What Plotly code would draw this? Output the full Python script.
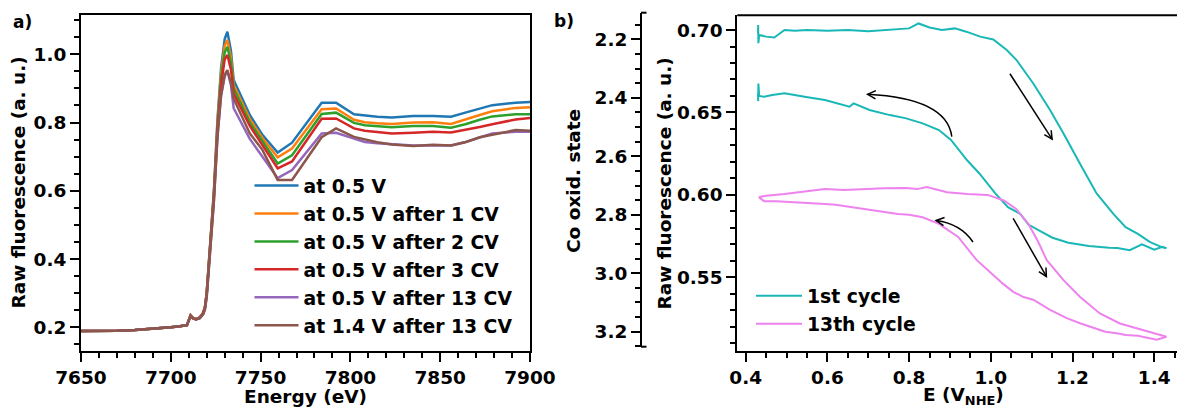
import math
import plotly.graph_objects as go

W, H = 1177, 407

# ---------------- Panel a data: XANES spectra ----------------
energy_eV = [7650, 7660, 7670, 7680, 7690, 7700, 7705, 7709, 7711, 7712.5, 7714, 7716, 7718, 7719,
             7720, 7722, 7724, 7726, 7728, 7730, 7731.5, 7733.5, 7735, 7744, 7751, 7759.5, 7767.5,
             7784, 7792, 7802, 7808, 7815, 7823, 7835, 7846, 7856, 7864, 7872, 7879, 7892, 7900]

fl_05V = [0.189, 0.189, 0.190, 0.192, 0.195, 0.200, 0.203, 0.206, 0.235, 0.226, 0.224, 0.228, 0.242, 0.258,
          0.300, 0.440, 0.600, 0.810, 0.960, 1.045, 1.066, 1.010, 0.925, 0.822, 0.764, 0.712, 0.741,
          0.858, 0.858, 0.824, 0.820, 0.817, 0.815, 0.819, 0.819, 0.817, 0.829, 0.840, 0.851, 0.858, 0.860]
fl_05V_1CV = [0.189, 0.189, 0.190, 0.192, 0.195, 0.200, 0.203, 0.206, 0.235, 0.226, 0.224, 0.228, 0.242, 0.258,
              0.300, 0.440, 0.595, 0.800, 0.945, 1.025, 1.042, 0.990, 0.910, 0.810, 0.755, 0.698, 0.724,
              0.839, 0.841, 0.808, 0.801, 0.798, 0.796, 0.800, 0.801, 0.796, 0.808, 0.822, 0.833, 0.843, 0.845]
fl_05V_2CV = [0.189, 0.189, 0.190, 0.192, 0.195, 0.200, 0.203, 0.206, 0.235, 0.226, 0.224, 0.228, 0.242, 0.258,
              0.300, 0.440, 0.590, 0.790, 0.930, 1.005, 1.022, 0.975, 0.900, 0.800, 0.745, 0.680, 0.704,
              0.825, 0.829, 0.799, 0.792, 0.789, 0.786, 0.790, 0.790, 0.785, 0.795, 0.808, 0.818, 0.824, 0.824]
fl_05V_3CV = [0.189, 0.189, 0.190, 0.192, 0.195, 0.200, 0.203, 0.206, 0.235, 0.226, 0.224, 0.228, 0.242, 0.258,
              0.300, 0.440, 0.585, 0.780, 0.910, 0.985, 0.998, 0.955, 0.885, 0.790, 0.735, 0.666, 0.686,
              0.811, 0.812, 0.783, 0.776, 0.772, 0.768, 0.770, 0.773, 0.771, 0.778, 0.787, 0.795, 0.809, 0.813]
fl_05V_13CV = [0.189, 0.189, 0.190, 0.192, 0.195, 0.200, 0.203, 0.206, 0.233, 0.226, 0.223, 0.226, 0.238, 0.252,
               0.290, 0.420, 0.570, 0.760, 0.880, 0.935, 0.952, 0.910, 0.842, 0.752, 0.700, 0.637, 0.661,
               0.768, 0.770, 0.752, 0.743, 0.739, 0.736, 0.733, 0.733, 0.733, 0.743, 0.756, 0.768, 0.773, 0.773]
fl_14V_13CV = [0.189, 0.189, 0.190, 0.192, 0.195, 0.200, 0.203, 0.206, 0.233, 0.226, 0.223, 0.226, 0.238, 0.252,
               0.290, 0.420, 0.570, 0.760, 0.880, 0.940, 0.954, 0.915, 0.870, 0.768, 0.720, 0.632, 0.632,
               0.757, 0.783, 0.758, 0.750, 0.742, 0.736, 0.731, 0.735, 0.733, 0.742, 0.757, 0.764, 0.778, 0.776]

series_a = [fl_05V, fl_05V_1CV, fl_05V_2CV, fl_05V_3CV, fl_05V_13CV, fl_14V_13CV]
names_a = ["at 0.5 V", "at 0.5 V after 1 CV", "at 0.5 V after 2 CV", "at 0.5 V after 3 CV",
           "at 0.5 V after 13 CV", "at 1.4 V after 13 CV"]
colors_a = ["#1f77b4", "#ff7f0e", "#2ca02c", "#d62728", "#9467bd", "#8c564b"]

# ---------------- Panel b data: fluorescence vs potential ----------------
cyc1_fwd_E = [0.430, 0.4305, 0.431, 0.433, 0.45, 0.47, 0.495, 0.52, 0.55, 0.60, 0.65, 0.70, 0.75, 0.80,
              0.823, 0.85, 0.88, 0.912, 0.94, 0.974, 1.006, 1.039, 1.063, 1.104, 1.145, 1.178, 1.218,
              1.259, 1.30, 1.33, 1.36, 1.39, 1.42, 1.43]
cyc1_fwd_F = [0.698, 0.703, 0.692, 0.697, 0.696, 0.6955, 0.700, 0.6995, 0.700, 0.6995, 0.700, 0.6993, 0.700,
              0.701, 0.704, 0.7015, 0.700, 0.701, 0.699, 0.696, 0.6943, 0.6879, 0.6818, 0.6676, 0.6515,
              0.6373, 0.6191, 0.6009, 0.5885, 0.5804, 0.5763, 0.5713, 0.5682, 0.5676]
cyc1_ret_E = [1.43, 1.42, 1.40, 1.37, 1.34, 1.31, 1.29, 1.24, 1.19, 1.151, 1.121, 1.092, 1.072, 1.042,
              1.012, 0.992, 0.972, 0.942, 0.9025, 0.873, 0.833, 0.793, 0.753, 0.703, 0.664, 0.654, 0.594,
              0.544, 0.495, 0.465, 0.445, 0.433, 0.431, 0.4305, 0.430]
cyc1_ret_F = [0.5676, 0.5685, 0.5668, 0.570, 0.5665, 0.5678, 0.568, 0.569, 0.571, 0.574, 0.578, 0.582,
              0.5885, 0.5925, 0.6006, 0.6067, 0.613, 0.621, 0.6333, 0.6393, 0.6434, 0.6464, 0.6484, 0.6515,
              0.6555, 0.6535, 0.6575, 0.6595, 0.6616, 0.6606, 0.6595, 0.660, 0.6676, 0.657, 0.661]

cyc13_fwd_E = [0.432, 0.45, 0.495, 0.54, 0.594, 0.64, 0.694, 0.74, 0.793, 0.82, 0.843, 0.87, 0.893, 0.942,
               0.992, 1.032, 1.062, 1.092, 1.115, 1.137, 1.178, 1.218, 1.267, 1.316, 1.357, 1.40, 1.43]
cyc13_fwd_F = [0.5986, 0.5995, 0.6006, 0.6020, 0.6036, 0.6030, 0.6036, 0.6040, 0.6042, 0.6035, 0.6047,
               0.6030, 0.6016, 0.6006, 0.6000, 0.5966, 0.5915, 0.5824, 0.572, 0.5604, 0.5483, 0.5382,
               0.5281, 0.522, 0.519, 0.516, 0.5139]
cyc13_ret_E = [1.43, 1.406, 1.38, 1.36, 1.33, 1.308, 1.28, 1.251, 1.22, 1.186, 1.145, 1.104, 1.08, 1.055,
               1.03, 1.01, 0.9655, 0.92, 0.873, 0.833, 0.80, 0.773, 0.743, 0.713, 0.68, 0.654, 0.62,
               0.594, 0.534, 0.475, 0.445, 0.432]
cyc13_ret_F = [0.5139, 0.5121, 0.5135, 0.5145, 0.515, 0.5161, 0.517, 0.5192, 0.522, 0.5252, 0.5303,
               0.5364, 0.538, 0.5412, 0.546, 0.5505, 0.5604, 0.5745, 0.5824, 0.5864, 0.588, 0.5884,
               0.5895, 0.5905, 0.5918, 0.5925, 0.594, 0.5945, 0.5955, 0.5962, 0.5962, 0.5986]

names_b = ["1st cycle", "13th cycle"]
colors_b = ["#1ab7b7", "#ee82ee"]

# arrow anchors (data coordinates of panel b)
arrow_straight = [((1.0468, 0.6735), (1.150, 0.6338)), ((1.0547, 0.5858), (1.136, 0.5505))]   # (tail, head)
arrow_curved = [((0.9045, 0.6353), (0.8925, 0.6585), (0.6985, 0.6610)),                      # (tail, ctrl, head)
                ((0.9564, 0.5714), (0.9274, 0.5824), (0.8660, 0.5845))]

# ---------------- layout geometry (pixels) ----------------
A_X0, A_X1, A_Y0, A_Y1 = 81, 530, 15.3, 350.7
B_X0, B_X1, B_Y0, B_Y1 = 737.3, W, 15.2, 350.5
XA_RANGE = [7650, 7900]
YA_RANGE = [0.1314, 1.1143]
XB_RANGE = [0.3794, 1.4558]
YB_RANGE = [0.5056, 0.7090]
OX_RANGE = [3.2514, 2.1089]

FONT = "DejaVu Sans"
def f(size):
    return dict(family=FONT, size=size, color="black", weight="bold")

def px(x):
    return x / W
def py(y):
    return 1 - y / H

fig = go.Figure()
for i, (vals, name, col) in enumerate(zip(series_a, names_a, colors_a)):
    fig.add_trace(go.Scatter(x=energy_eV, y=vals, mode="lines", name=name, legendgroup=f"a{i}",
                             line=dict(color=col, width=2.5), xaxis="x", yaxis="y", legend="legend"))

cycles = [(cyc1_fwd_E + cyc1_ret_E, cyc1_fwd_F + cyc1_ret_F),
          (cyc13_fwd_E + cyc13_ret_E, cyc13_fwd_F + cyc13_ret_F)]
for i, ((ex, fy), name, col) in enumerate(zip(cycles, names_b, colors_b)):
    fig.add_trace(go.Scatter(x=ex, y=fy, mode="lines", name=name, legendgroup=f"b{i}",
                             line=dict(color=col, width=2), xaxis="x2", yaxis="y2", legend="legend2"))

# carrier for the oxidation-state axis
fig.add_trace(go.Scatter(x=[None], y=[None], xaxis="x2", yaxis="y3", showlegend=False, hoverinfo="skip"))

axis_common = dict(showline=True, linewidth=2, linecolor="black", ticks="outside", ticklen=9,
                   tickwidth=2, tickcolor="black", showgrid=False, zeroline=False, tickfont=f(18.5),
                   automargin=False)
def minor(d):
    return dict(dtick=d, ticklen=5, tickwidth=1.5, ticks="outside", tickcolor="black")

fig.update_layout(
    template="none",
    width=W, height=H, margin=dict(l=0, r=0, t=0, b=0, autoexpand=False),
    paper_bgcolor="white", plot_bgcolor="rgba(0,0,0,0)",
    font=f(18.5),
    xaxis=dict(domain=[px(A_X0), px(A_X1)], range=XA_RANGE, anchor="y", mirror=True,
               tick0=7650, dtick=50, minor=minor(10), **axis_common),
    yaxis=dict(domain=[py(A_Y1), py(A_Y0)], range=YA_RANGE, anchor="x", mirror=True,
               tick0=0.2, dtick=0.2, tickformat=".1f", minor=minor(0.05), **axis_common),
    xaxis2=dict(domain=[px(B_X0), px(B_X1)], range=XB_RANGE, anchor="y2",
                tick0=0.4, dtick=0.2, tickformat=".1f", minor=minor(0.05), **axis_common),
    yaxis2=dict(domain=[py(B_Y1), py(B_Y0)], range=YB_RANGE, anchor="x2",
                tick0=0.55, dtick=0.05, tickformat=".2f", minor=minor(0.01), **axis_common),
    yaxis3=dict(domain=[py(346.7), py(12.7)], range=OX_RANGE, anchor="free", position=px(641),
                side="left", tick0=2.2, dtick=0.2, tickformat=".1f", minor=minor(0.05), **axis_common),
    legend=dict(x=px(249.5), y=py(166.8), xanchor="left", yanchor="top", bgcolor="rgba(0,0,0,0)",
                borderwidth=0, font=f(18.8), itemwidth=44, tracegroupgap=0.5),
    legend2=dict(x=px(751), y=py(277.0), xanchor="left", yanchor="top", bgcolor="rgba(0,0,0,0)",
                 borderwidth=0, font=f(18.8), itemwidth=46, tracegroupgap=0.5),
    showlegend=True,
)

# ---------------- arrows as shapes ----------------
SX = (B_X1 - B_X0) / (XB_RANGE[1] - XB_RANGE[0])   # px per V
SY = (B_Y1 - B_Y0) / (YB_RANGE[1] - YB_RANGE[0])   # px per a.u.

def chevron(head, frm, L=9.0, ang=27.0):
    dx = (head[0] - frm[0]) * SX
    dy = (head[1] - frm[1]) * SY
    n = math.hypot(dx, dy)
    ux, uy = dx / n, dy / n
    pts = []
    for s in (1, -1):
        a = math.radians(s * ang)
        bx = -ux * math.cos(a) + uy * math.sin(a)
        by = -ux * math.sin(a) - uy * math.cos(a)
        pts.append((head[0] + L * bx / SX, head[1] + L * by / SY))
    return (f"M {pts[0][0]},{pts[0][1]} L {head[0]},{head[1]} L {pts[1][0]},{pts[1][1]}")

ARROW_LINE = dict(color="black", width=1.5)
shapes = [
    dict(type="line", xref="paper", yref="paper", x0=px(B_X0), x1=1.0, y0=py(B_Y0), y1=py(B_Y0),
         line=dict(color="black", width=2)),
    dict(type="line", xref="paper", yref="paper", x0=px(641), x1=px(646.5), y0=py(12.7), y1=py(12.7),
         line=dict(color="black", width=2)),
    dict(type="line", xref="paper", yref="paper", x0=px(641), x1=px(646.5), y0=py(346.7), y1=py(346.7),
         line=dict(color="black", width=2)),
]
for (t, h) in arrow_straight:
    shapes.append(dict(type="line", xref="x2", yref="y2", x0=t[0], y0=t[1], x1=h[0], y1=h[1], line=ARROW_LINE))
    shapes.append(dict(type="path", xref="x2", yref="y2", path=chevron(h, t), line=ARROW_LINE))
for (t, c, h) in arrow_curved:
    shapes.append(dict(type="path", xref="x2", yref="y2",
                       path=f"M {t[0]},{t[1]} Q {c[0]},{c[1]} {h[0]},{h[1]}", line=ARROW_LINE))
    shapes.append(dict(type="path", xref="x2", yref="y2", path=chevron(h, c), line=ARROW_LINE))
fig.update_layout(shapes=shapes)

annotations = [
    dict(text="a)", x=px(22), y=py(22), xref="paper", yref="paper", showarrow=False, font=f(17),
         xanchor="center", yanchor="middle"),
    dict(text="b)", x=px(564), y=py(21), xref="paper", yref="paper", showarrow=False, font=f(17),
         xanchor="center", yanchor="middle"),
    dict(text="Raw fluorescence (a. u.)", x=px(17.5), y=py(183), xref="paper", yref="paper",
         showarrow=False, font=f(18.5), textangle=-90, xanchor="center", yanchor="middle"),
    dict(text="Energy (eV)", x=px(305.5), y=py(396), xref="paper", yref="paper",
         showarrow=False, font=f(18.5), xanchor="center", yanchor="middle"),
    dict(text="Co oxid. state", x=px(574), y=py(181), xref="paper", yref="paper",
         showarrow=False, font=f(18.5), textangle=-90, xanchor="center", yanchor="middle"),
    dict(text="Raw fluorescence (a. u.)", x=px(663.5), y=py(183), xref="paper", yref="paper",
         showarrow=False, font=f(18.5), textangle=-90, xanchor="center", yanchor="middle"),
    dict(text="E (V<sub>NHE</sub>)", x=px(963), y=py(396), xref="paper", yref="paper",
         showarrow=False, font=f(18.5), xanchor="center", yanchor="middle"),
]
fig.update_layout(annotations=annotations)

fig.write_html("out.html",
               config={"displayModeBar": False},
               post_script="document.body.style.margin='0px';document.body.style.padding='0px';"
                           "document.documentElement.style.overflow='hidden';")
